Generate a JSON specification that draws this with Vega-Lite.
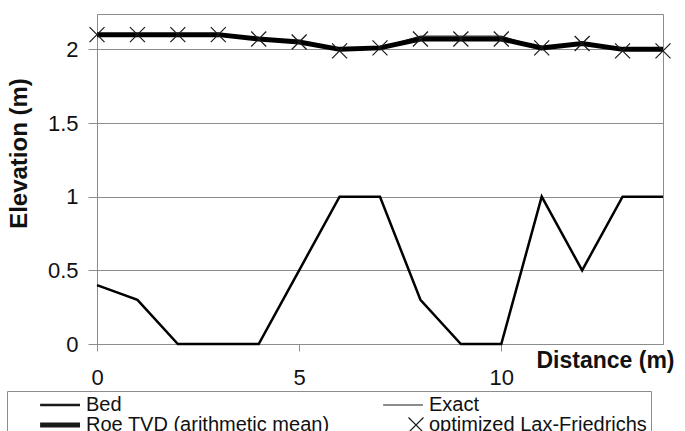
{
  "$schema": "https://vega.github.io/schema/vega-lite/v6.json",
  "width": 566,
  "height": 330,
  "autosize": {"type": "none"},
  "padding": {"left": 97, "top": 14, "right": 22, "bottom": 87},
  "config": {
    "font": "Liberation Sans",
    "view": {"stroke": "#8c8c8c", "strokeWidth": 1},
    "axis": {"labelColor": "#111111", "titleColor": "#111111", "domainColor": "#8c8c8c", "tickColor": "#8c8c8c", "gridColor": "#8c8c8c", "gridOpacity": 1, "domainWidth": 1, "tickWidth": 1, "gridWidth": 1, "labelFlush": false}
  },
  "data": {
    "values": [
      {"x": 0, "y": 0.4, "series": "Bed"},
      {"x": 1, "y": 0.3, "series": "Bed"},
      {"x": 2, "y": 0, "series": "Bed"},
      {"x": 3, "y": 0, "series": "Bed"},
      {"x": 4, "y": 0, "series": "Bed"},
      {"x": 5, "y": 0.5, "series": "Bed"},
      {"x": 6, "y": 1, "series": "Bed"},
      {"x": 7, "y": 1, "series": "Bed"},
      {"x": 8, "y": 0.3, "series": "Bed"},
      {"x": 9, "y": 0, "series": "Bed"},
      {"x": 10, "y": 0, "series": "Bed"},
      {"x": 11, "y": 1, "series": "Bed"},
      {"x": 12, "y": 0.5, "series": "Bed"},
      {"x": 13, "y": 1, "series": "Bed"},
      {"x": 14, "y": 1, "series": "Bed"},
      {"x": 0, "y": 2.1, "series": "Roe TVD (arithmetic mean)"},
      {"x": 1, "y": 2.1, "series": "Roe TVD (arithmetic mean)"},
      {"x": 2, "y": 2.1, "series": "Roe TVD (arithmetic mean)"},
      {"x": 3, "y": 2.1, "series": "Roe TVD (arithmetic mean)"},
      {"x": 4, "y": 2.07, "series": "Roe TVD (arithmetic mean)"},
      {"x": 5, "y": 2.05, "series": "Roe TVD (arithmetic mean)"},
      {"x": 6, "y": 2.0, "series": "Roe TVD (arithmetic mean)"},
      {"x": 7, "y": 2.01, "series": "Roe TVD (arithmetic mean)"},
      {"x": 8, "y": 2.07, "series": "Roe TVD (arithmetic mean)"},
      {"x": 9, "y": 2.07, "series": "Roe TVD (arithmetic mean)"},
      {"x": 10, "y": 2.07, "series": "Roe TVD (arithmetic mean)"},
      {"x": 11, "y": 2.01, "series": "Roe TVD (arithmetic mean)"},
      {"x": 12, "y": 2.04, "series": "Roe TVD (arithmetic mean)"},
      {"x": 13, "y": 2.0, "series": "Roe TVD (arithmetic mean)"},
      {"x": 14, "y": 2.0, "series": "Roe TVD (arithmetic mean)"},
      {"x": 0, "y": 2.1, "series": "Exact"},
      {"x": 1, "y": 2.1, "series": "Exact"},
      {"x": 2, "y": 2.1, "series": "Exact"},
      {"x": 3, "y": 2.1, "series": "Exact"},
      {"x": 4, "y": 2.07, "series": "Exact"},
      {"x": 5, "y": 2.05, "series": "Exact"},
      {"x": 6, "y": 2.0, "series": "Exact"},
      {"x": 7, "y": 2.01, "series": "Exact"},
      {"x": 8, "y": 2.09, "series": "Exact"},
      {"x": 9, "y": 2.09, "series": "Exact"},
      {"x": 10, "y": 2.09, "series": "Exact"},
      {"x": 11, "y": 2.01, "series": "Exact"},
      {"x": 12, "y": 2.04, "series": "Exact"},
      {"x": 13, "y": 2.0, "series": "Exact"},
      {"x": 14, "y": 2.0, "series": "Exact"},
      {"x": 0, "y": 2.1, "series": "optimized Lax-Friedrichs"},
      {"x": 1, "y": 2.1, "series": "optimized Lax-Friedrichs"},
      {"x": 2, "y": 2.1, "series": "optimized Lax-Friedrichs"},
      {"x": 3, "y": 2.1, "series": "optimized Lax-Friedrichs"},
      {"x": 4, "y": 2.07, "series": "optimized Lax-Friedrichs"},
      {"x": 5, "y": 2.05, "series": "optimized Lax-Friedrichs"},
      {"x": 6, "y": 1.99, "series": "optimized Lax-Friedrichs"},
      {"x": 7, "y": 2.01, "series": "optimized Lax-Friedrichs"},
      {"x": 8, "y": 2.07, "series": "optimized Lax-Friedrichs"},
      {"x": 9, "y": 2.07, "series": "optimized Lax-Friedrichs"},
      {"x": 10, "y": 2.07, "series": "optimized Lax-Friedrichs"},
      {"x": 11, "y": 2.01, "series": "optimized Lax-Friedrichs"},
      {"x": 12, "y": 2.04, "series": "optimized Lax-Friedrichs"},
      {"x": 13, "y": 1.99, "series": "optimized Lax-Friedrichs"},
      {"x": 14, "y": 1.99, "series": "optimized Lax-Friedrichs"}
    ]
  },
  "encoding": {
    "x": {
      "field": "x", "type": "quantitative",
      "scale": {"domain": [0, 14], "nice": false, "zero": false},
      "axis": {
        "values": [0, 5, 10], "format": "d", "grid": false,
        "tickSize": 7, "labelPadding": 16, "labelFontSize": 22,
        "title": "Distance (m)", "titleFontSize": 23, "titleFontWeight": "bold",
        "titleX": 577, "titleY": 23, "titleAlign": "right", "titleBaseline": "alphabetic"
      }
    },
    "y": {
      "field": "y", "type": "quantitative",
      "scale": {"domain": [0, 2.24], "nice": false, "zero": false},
      "axis": {
        "values": [0, 0.5, 1, 1.5, 2], "format": "~g", "grid": true,
        "tickSize": 9, "labelPadding": 10, "labelFontSize": 22,
        "title": "Elevation (m)", "titleFontSize": 24, "titleFontWeight": "bold",
        "titleX": -71, "titleY": 139, "titleAngle": -90, "titleAlign": "center", "titleBaseline": "alphabetic"
      }
    }
  },
  "layer": [
    {
      "transform": [{"filter": "datum.series === 'Bed'"}],
      "mark": {"type": "line", "color": "#000000", "strokeWidth": 2.5},
      "encoding": {}
    },
    {
      "transform": [{"filter": "datum.series === 'Exact'"}],
      "mark": {"type": "line", "color": "#333333", "strokeWidth": 1.2},
      "encoding": {}
    },
    {
      "transform": [{"filter": "datum.series === 'Roe TVD (arithmetic mean)'"}],
      "mark": {"type": "line", "color": "#000000", "strokeWidth": 5},
      "encoding": {}
    },
    {
      "transform": [{"filter": "datum.series === 'optimized Lax-Friedrichs'"}],
      "mark": {"type": "point", "color": "#1a1a1a", "filled": false, "opacity": 1},
      "encoding": {
        "shape": {
          "field": "series", "type": "nominal",
          "scale": {
            "domain": ["Bed", "Exact", "Roe TVD (arithmetic mean)", "optimized Lax-Friedrichs"],
            "range": ["M-4.7,0L1,0", "M-4.7,0L1,0", "M-4.7,0L1,0", "M-1,-1L1,1M-1,1L1,-1"]
          },
          "legend": {
            "orient": "none", "legendX": -90, "legendY": 377, "direction": "horizontal", "columns": 2,
            "title": null, "labelFontSize": 20, "labelColor": "#111111", "labelLimit": 0, "labelOffset": 3,
            "strokeColor": "#8c8c8c", "padding": 4, "symbolOffset": 52, "columnPadding": 24, "rowPadding": -5,
            "labelExpr": "datum.label === 'optimized Lax-Friedrichs' ? datum.label + '\u2003\u2003\u2003\u2003' : datum.label"
          }
        },
        "size": {
          "field": "series", "type": "nominal",
          "scale": {
            "type": "ordinal",
            "domain": ["Bed", "Exact", "Roe TVD (arithmetic mean)", "optimized Lax-Friedrichs"],
            "range": [196, 196, 196, 225]
          },
          "legend": {
            "orient": "none", "legendX": -90, "legendY": 377, "direction": "horizontal", "columns": 2,
            "title": null, "labelFontSize": 20, "labelColor": "#111111", "labelLimit": 0, "labelOffset": 3,
            "strokeColor": "#8c8c8c", "padding": 4, "symbolOffset": 52, "columnPadding": 24, "rowPadding": -5,
            "labelExpr": "datum.label === 'optimized Lax-Friedrichs' ? datum.label + '\u2003\u2003\u2003\u2003' : datum.label"
          }
        },
        "strokeWidth": {
          "field": "series", "type": "nominal",
          "scale": {
            "type": "ordinal",
            "domain": ["Bed", "Exact", "Roe TVD (arithmetic mean)", "optimized Lax-Friedrichs"],
            "range": [2.5, 1.2, 5, 1.2]
          },
          "legend": {
            "orient": "none", "legendX": -90, "legendY": 377, "direction": "horizontal", "columns": 2,
            "title": null, "labelFontSize": 20, "labelColor": "#111111", "labelLimit": 0, "labelOffset": 3,
            "strokeColor": "#8c8c8c", "padding": 4, "symbolOffset": 52, "columnPadding": 24, "rowPadding": -5,
            "labelExpr": "datum.label === 'optimized Lax-Friedrichs' ? datum.label + '\u2003\u2003\u2003\u2003' : datum.label"
          }
        }
      }
    }
  ]
}
